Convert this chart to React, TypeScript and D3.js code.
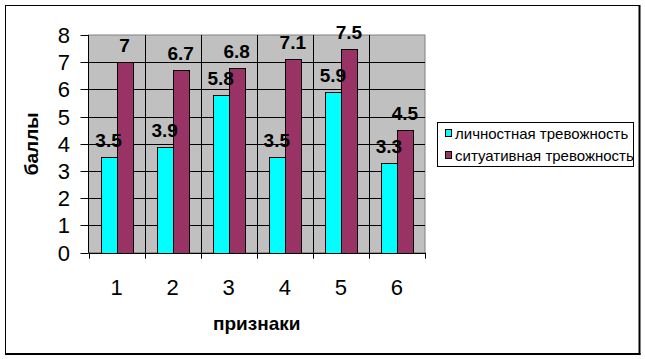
import React from "react";
import * as d3 from "d3";

const categories = ["1", "2", "3", "4", "5", "6"];
const seriesNames = ["личностная тревожность", "ситуативная тревожность"];
const personal = [3.5, 3.9, 5.8, 3.5, 5.9, 3.3];
const situational = [7, 6.7, 6.8, 7.1, 7.5, 4.5];
const yTicks = [0, 1, 2, 3, 4, 5, 6, 7, 8];
const colors = ["#00FFFF", "#993366"];
const yTitle = "баллы";
const xTitle = "признаки";

const W = 645;
const H = 359;
const FONT = "'Liberation Sans', Arial, sans-serif";

export default function App() {
  const left = 88.5;
  const right = 425;
  const top = 35;
  const bottom = 252.7;

  const x0 = d3.scaleBand<string>().domain(categories).range([left, right]).padding(0);
  const x1 = d3
    .scaleBand<string>()
    .domain(seriesNames)
    .range([0, x0.bandwidth()])
    .paddingInner(0)
    .paddingOuter(0.753);
  const y = d3.scaleLinear().domain([0, 8]).range([bottom, top]);

  const values = [personal, situational];
  const boundaries = [...categories.map((c) => x0(c) as number), right];

  return (
    <div style={{ position: "absolute", left: 0, top: 0, width: W, height: H }}>
      <svg width={W} height={H} style={{ display: "block", background: "#fff" }}>
        {/* outer frame */}
        <rect x={5.5} y={5.5} width={634} height={348} fill="none" stroke="#000" strokeWidth={1} />
        <line x1={639.5} x2={639.5} y1={5} y2={355} stroke="#000" strokeWidth={2} />
        <line x1={5} x2={640.5} y1={354} y2={354} stroke="#000" strokeWidth={2} />

        {/* plot area */}
        <rect x={left} y={top} width={right - left} height={bottom - top} fill="#C0C0C0" stroke="#808080" strokeWidth={1} />

        {/* horizontal gridlines */}
        {yTicks
          .filter((t) => t > 0 && t < 8)
          .map((t) => (
            <line key={"h" + t} x1={left} x2={right} y1={Math.round(y(t)) + 0.5} y2={Math.round(y(t)) + 0.5} stroke="#000" strokeWidth={1} />
          ))}
        {/* vertical gridlines */}
        {boundaries.slice(1, -1).map((b, i) => (
          <line key={"v" + i} x1={Math.round(b) + 0.5} x2={Math.round(b) + 0.5} y1={top} y2={bottom} stroke="#000" strokeWidth={1} />
        ))}

        {/* bars */}
        {categories.map((c, ci) =>
          seriesNames.map((s, si) => {
            const v = values[si][ci];
            const bx = (x0(c) as number) + (x1(s) as number);
            return (
              <rect
                key={c + s}
                x={Math.round(bx) + 0.5}
                y={Math.round(y(v)) + 0.5}
                width={Math.round(x1.bandwidth())}
                height={Math.round(bottom) - Math.round(y(v))}
                fill={colors[si]}
                stroke="#000"
                strokeWidth={1}
              />
            );
          })
        )}

        {/* y axis */}
        <line x1={left} x2={left} y1={top} y2={bottom} stroke="#000" strokeWidth={1} />
        {yTicks.map((t) => (
          <g key={"yt" + t}>
            <line x1={left - 8} x2={left} y1={Math.round(y(t)) + 0.5} y2={Math.round(y(t)) + 0.5} stroke="#000" strokeWidth={1} />
            <text x={70} y={y(t)} dy="0.36em" textAnchor="end" fontFamily={FONT} fontSize={22} fill="#000">
              {t}
            </text>
          </g>
        ))}

        {/* x axis */}
        <line x1={left} x2={right} y1={Math.round(bottom) + 0.5} y2={Math.round(bottom) + 0.5} stroke="#000" strokeWidth={1} />
        {boundaries.map((b, i) => (
          <line key={"xt" + i} x1={Math.round(b) + 0.5} x2={Math.round(b) + 0.5} y1={bottom} y2={bottom + 6} stroke="#000" strokeWidth={1} />
        ))}
        {categories.map((c) => (
          <text key={"xl" + c} x={(x0(c) as number) + x0.bandwidth() / 2} y={295} textAnchor="middle" fontFamily={FONT} fontSize={22} fill="#000">
            {c}
          </text>
        ))}

        {/* data labels */}
        {categories.map((c, ci) =>
          seriesNames.map((s, si) => {
            const v = values[si][ci];
            const cx = (x0(c) as number) + (x1(s) as number) + x1.bandwidth() / 2;
            return (
              <text key={"dl" + c + s} x={cx} y={y(v) - 10} textAnchor="middle" fontFamily={FONT} fontSize={19} fontWeight="bold" fill="#000">
                {String(v)}
              </text>
            );
          })
        )}

        {/* axis titles */}
        <text
          transform={`translate(38, ${(top + bottom) / 2}) rotate(-90)`}
          textAnchor="middle"
          fontFamily={FONT}
          fontSize={19}
          fontWeight="bold"
          fill="#000"
        >
          {yTitle}
        </text>
        <text x={(left + right) / 2} y={330} textAnchor="middle" fontFamily={FONT} fontSize={19} fontWeight="bold" fill="#000">
          {xTitle}
        </text>

        {/* legend */}
        <rect x={437.5} y={122.5} width={196} height={44} fill="#fff" stroke="#000" strokeWidth={1} />
        {seriesNames.map((s, i) => (
          <g key={"lg" + s}>
            <rect x={445.5} y={129.5 + i * 22} width={6} height={7} fill={colors[i]} stroke="#000" strokeWidth={1} />
            <text x={455} y={138.5 + i * 22} fontFamily={FONT} fontSize={15} fill="#000">
              {s}
            </text>
          </g>
        ))}
      </svg>
    </div>
  );
}
